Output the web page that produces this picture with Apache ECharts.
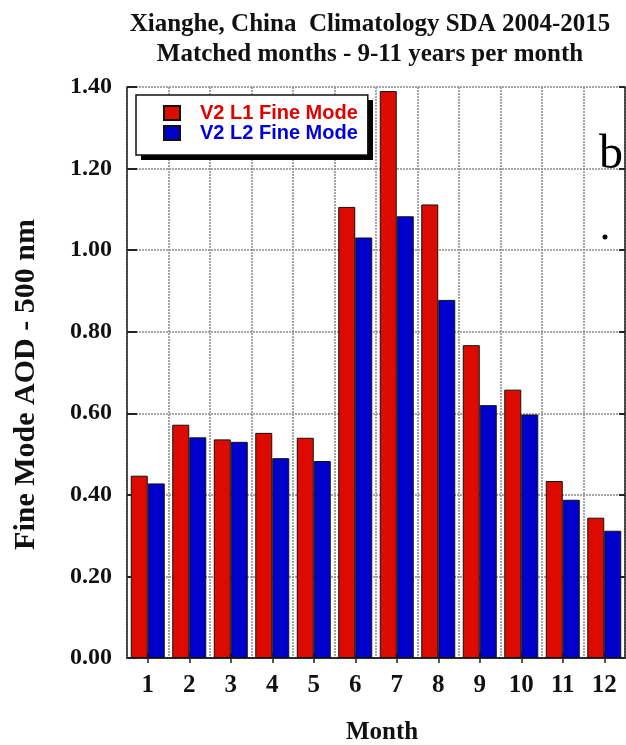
<!DOCTYPE html>
<html>
<head>
<meta charset="utf-8">
<script src="https://cdn.jsdelivr.net/npm/echarts@6/dist/echarts.min.js"></script>
<style>
html,body{margin:0;padding:0;background:#fff;}
#chart{width:626px;height:745px;}
</style>
</head>
<body>
<div id="chart"></div>
<script>
var months = ['1','2','3','4','5','6','7','8','9','10','11','12'];
var l1Fine = [0.447, 0.572, 0.536, 0.552, 0.540, 1.106, 1.390, 1.112, 0.767, 0.658, 0.434, 0.344];
var l2Fine = [0.428, 0.541, 0.530, 0.490, 0.483, 1.031, 1.083, 0.878, 0.620, 0.597, 0.388, 0.312];
var seriesNames = ['V2 L1 Fine Mode', 'V2 L2 Fine Mode'];
var titleLines = ['Xianghe, China  Climatology SDA 2004-2015', 'Matched months - 9-11 years per month'];
var yAxisName = 'Fine Mode AOD - 500 nm';
var xAxisName = 'Month';

var RED = '#DD0A00', BLUE = '#0000CC';
var SERIF = 'Liberation Serif, Times New Roman, serif';
var frameLine = {show: true, lineStyle: {color: '#222', width: 1.5}};
var gridLine = {show: true, lineStyle: {color: '#8a8a8a', width: 1.5, type: [2, 1]}};

var chart = echarts.init(document.getElementById('chart'), null, {renderer: 'canvas'});
chart.setOption({
  backgroundColor: '#fff',
  animation: false,
  title: {
    text: titleLines.join('\n'),
    left: 365, top: 5, textAlign: 'center',
    textStyle: {fontFamily: SERIF, fontWeight: 'bold', fontSize: 25, lineHeight: 30, color: '#111'}
  },
  grid: {left: 127, right: 1, top: 87, bottom: 87, containLabel: false, outerBoundsMode: 'none'},
  legend: {
    orient: 'vertical', left: 136, top: 95, z: 5,
    data: [
      {name: seriesNames[0], textStyle: {color: '#E00000'}},
      {name: seriesNames[1], textStyle: {color: '#0000DD'}}
    ],
    icon: 'rect', itemWidth: 16, itemHeight: 14, itemGap: 0,
    backgroundColor: '#fff', borderColor: '#111', borderWidth: 1.5, borderRadius: 0,
    padding: [8, 10, 12, 27],
    textStyle: {fontFamily: 'Liberation Sans, Arial, sans-serif', fontWeight: 'bold', fontSize: 20, lineHeight: 20, padding: [0, 0, 0, 15]}
  },
  xAxis: [{
    type: 'category', data: months, position: 'bottom',
    axisLine: frameLine,
    axisTick: {show: true, inside: true, alignWithLabel: true, length: 5, lineStyle: {color: '#222', width: 1.5}},
    axisLabel: {fontFamily: SERIF, fontWeight: 'bold', fontSize: 25, color: '#111', margin: 15},
    splitLine: gridLine,
    name: xAxisName, nameLocation: 'middle', nameGap: 62,
    nameTextStyle: {fontFamily: SERIF, fontWeight: 'bold', fontSize: 25, color: '#111', padding: [0, 0, 0, 12]}
  }, {
    type: 'category', data: months, position: 'top',
    axisLine: frameLine,
    axisTick: {show: true, inside: true, alignWithLabel: true, length: 5, lineStyle: {color: '#222', width: 1.5}},
    axisLabel: {show: false}, splitLine: {show: false}
  }],
  yAxis: [{
    type: 'value', min: 0, max: 1.4, interval: 0.2, position: 'left',
    axisLine: frameLine,
    axisTick: {show: true, inside: true, length: 10, lineStyle: {color: '#222', width: 2}},
    axisLabel: {fontFamily: SERIF, fontWeight: 'bold', fontSize: 24, color: '#111', margin: 15,
      formatter: function (v) { return v.toFixed(2); }},
    splitLine: gridLine,
    name: yAxisName, nameLocation: 'middle', nameGap: 86, nameRotate: 90,
    nameTextStyle: {fontFamily: SERIF, fontWeight: 'bold', fontSize: 30, color: '#111', padding: [0, 24, 0, 0]}
  }, {
    type: 'value', min: 0, max: 1.4, interval: 0.2, position: 'right',
    axisLine: frameLine,
    axisTick: {show: true, inside: true, length: 6, lineStyle: {color: '#222', width: 2}},
    axisLabel: {show: false}, splitLine: {show: false}
  }],
  series: [{
    name: seriesNames[0], type: 'bar', data: l1Fine, barWidth: 17, barGap: '0%',
    itemStyle: {color: RED, borderColor: '#111', borderWidth: 1}
  }, {
    name: seriesNames[1], type: 'bar', data: l2Fine, barWidth: 17, barGap: '0%',
    itemStyle: {color: BLUE, borderColor: '#111', borderWidth: 1}
  }],
  graphic: [
    {type: 'rect', z: 4, shape: {x: 141, y: 100, width: 232, height: 60}, style: {fill: '#000'}},
    {type: 'text', left: 599, top: 131, z: 100,
      style: {text: 'b', font: '48px ' + SERIF, fill: '#000'}},
    {type: 'circle', shape: {cx: 605, cy: 237, r: 2.5}, z: 100, style: {fill: '#000'}}
  ]
});
</script>
</body>
</html>
